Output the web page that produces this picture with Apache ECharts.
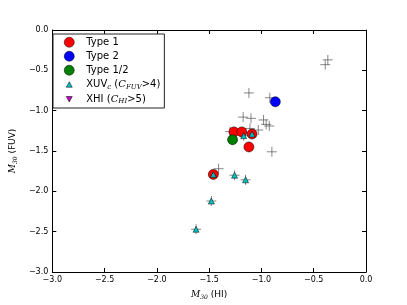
<!DOCTYPE html>
<html><head><meta charset="utf-8">
<script src="https://cdn.jsdelivr.net/npm/echarts@6/dist/echarts.min.js"></script>
<style>html,body{margin:0;padding:0;background:#fff}#c{width:407px;height:305px}</style>
</head><body><div id="c"></div>
<script>
const xTicks = [-3.0, -2.5, -2.0, -1.5, -1.0, -0.5, 0.0];
const yTicks = [-3.0, -2.5, -2.0, -1.5, -1.0, -0.5, 0.0];
const allSample = [[-1.12,-0.78],[-0.92,-0.84],[-1.175,-1.08],[-1.10,-1.095],[-0.98,-1.115],[-0.955,-1.17],[-0.925,-1.19],[-1.03,-1.24],[-1.11,-1.22],[-1.30,-1.26],[-0.90,-1.51],[-1.41,-1.72],[-0.365,-0.37],[-0.39,-0.43],[-1.257,-1.80],[-1.152,-1.857],[-1.479,-2.12],[-1.625,-2.47],[-1.46,-1.79],[-1.17,-1.31],[-1.09,-1.29],[-1.263,-1.263],[-1.188,-1.263],[-1.12,-1.45],[-0.867,-0.89],[-1.276,-1.36]];
const type1 = [[-1.263,-1.263],[-1.188,-1.263],[-1.09,-1.29],[-1.12,-1.45],[-1.46,-1.79]];
const type2 = [[-0.867,-0.89]];
const type12 = [[-1.276,-1.36]];
const xuv = [[-1.17,-1.31],[-1.09,-1.29],[-1.46,-1.79],[-1.257,-1.80],[-1.152,-1.857],[-1.479,-2.12],[-1.625,-2.47]];
const xhi = [];

const FONT = 'DejaVu Sans';
const fmt = v => (Math.abs(v) < 1e-9 ? '0.0' : (v < 0 ? '\u2212' : '') + Math.abs(v).toFixed(1));
const rich = {
  i:{fontFamily:'DejaVu Serif',fontStyle:'italic',fontSize:9,color:'#000'},
  s:{fontFamily:'DejaVu Serif',fontStyle:'italic',fontSize:6,color:'#000',padding:[5,0,0,0]},
  n:{fontFamily:FONT,fontSize:9,color:'#000'}
};
const lrich = {
  i:{fontFamily:'DejaVu Serif',fontStyle:'italic',fontSize:10,color:'#000'},
  s:{fontFamily:'DejaVu Serif',fontStyle:'italic',fontSize:7,color:'#000',padding:[5,0,0,0]},
  n:{fontFamily:FONT,fontSize:10,color:'#000'}
};
const axBase = (pos, show) => ({
  type:'value', min:-3, max:0, interval:0.5, position:pos,
  axisLine:{show:true, onZero:false, lineStyle:{color:'#000',width:1}},
  axisTick:{show:true, inside:true, length:4, lineStyle:{color:'#000'}},
  splitLine:{show:false},
  axisLabel:{show:show, formatter:fmt, fontFamily:FONT, fontSize:8, color:'#000', margin:4}
});
const plusSym = 'path://M5,0 L5,10 M0,5 L10,5';
const triUpLegend = 'path://M0,0 M10,10 M5,2.5 L8,8 L2,8 Z';
const triDownLegend = 'path://M0,0 M10,10 M2,2.5 L8,2.5 L5,8 Z';
const chart = echarts.init(document.getElementById('c'));
chart.setOption({
  animation:false,
  backgroundColor:'#fff',
  grid:{left:51, right:41, top:30, bottom:31},
  xAxis:[Object.assign(axBase('bottom',true),{name:'{i|M}{s|30}{n| (HI)}', nameLocation:'middle', nameGap:17, nameTextStyle:{rich:rich}}),
         Object.assign(axBase('top',false),{})],
  yAxis:[Object.assign(axBase('left',true),{name:'{i|M}{s|30}{n| (FUV)}', nameLocation:'middle', nameGap:19, nameTextStyle:{rich:rich}}),
         Object.assign(axBase('right',false),{})],
  legend:{
    orient:'vertical', left:53, top:34, padding:[3,4,3,11], itemGap:3.5,
    itemWidth:10, itemHeight:12, borderColor:'#222', borderWidth:1, backgroundColor:'#fff',
    itemStyle:{borderWidth:0.5, borderColor:'#000'},
    data:[{name:'Type 1',icon:'circle'},{name:'Type 2',icon:'circle'},{name:'Type 1/2',icon:'circle'},
          {name:'XUV',icon:triUpLegend,itemStyle:{color:'#00bfbf',borderColor:'#000',borderWidth:0.5}},
          {name:'XHI',icon:triDownLegend,itemStyle:{color:'#bf00bf',borderColor:'#000',borderWidth:0.5}}],
    formatter: n => ({'Type 1':'{n|Type 1}','Type 2':'{n|Type 2}','Type 1/2':'{n|Type 1/2}',
      'XUV':'{n|XUV}{s|c}{n| (}{i|C}{s|FUV}{n|>4)}','XHI':'{n|XHI (}{i|C}{s|HI}{n|>5)}'})[n],
    textStyle:{rich:lrich, fontFamily:FONT, fontSize:10, padding:[0,0,0,7]}
  },
  series:[
    {type:'scatter', name:'all', data:allSample, symbol:plusSym, symbolSize:10, z:1,
     itemStyle:{color:'none', borderColor:'rgba(70,70,70,0.65)', borderWidth:1, opacity:1}},
    {type:'scatter', name:'Type 1', data:type1, symbol:'circle', symbolSize:10, z:2,
     itemStyle:{color:'#ff0000', borderColor:'#000', borderWidth:0.5, opacity:1}},
    {type:'scatter', name:'Type 2', data:type2, symbol:'circle', symbolSize:10, z:2,
     itemStyle:{color:'#0000ff', borderColor:'#000', borderWidth:0.5, opacity:1}},
    {type:'scatter', name:'Type 1/2', data:type12, symbol:'circle', symbolSize:10, z:2,
     itemStyle:{color:'#008000', borderColor:'#000', borderWidth:0.5, opacity:1}},
    {type:'scatter', name:'XUV', data:xuv, symbol:'triangle', symbolSize:6, z:3,
     itemStyle:{color:'#00bfbf', borderColor:'#000', borderWidth:0.5, opacity:1}},
    {type:'scatter', name:'XHI', data:xhi, symbol:'path://M0,0 L10,0 L5,10 Z', symbolSize:6, z:3,
     itemStyle:{color:'#bf00bf', borderColor:'#000', borderWidth:0.5, opacity:1}}
  ]
});
</script></body></html>
